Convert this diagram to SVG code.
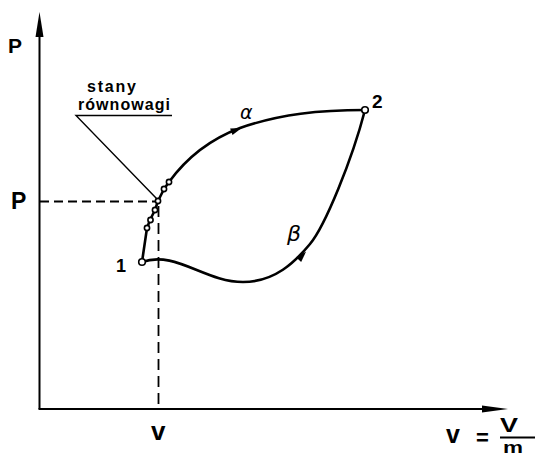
<svg xmlns="http://www.w3.org/2000/svg" width="535" height="457" viewBox="0 0 535 457">
<style>
.ax{stroke:#000;stroke-width:2;fill:none}
.cv{stroke:#000;stroke-width:2.6;fill:none;stroke-linejoin:round;stroke-linecap:round}
.ld{stroke:#000;stroke-width:1.4;fill:none}
.ds{stroke:#000;stroke-width:1.8;fill:none}
.pt{fill:#fff;stroke:#000;stroke-width:1.6}
.t{font-family:"Liberation Sans",Arial,sans-serif;font-weight:bold;fill:#000}
.g{font-family:"DejaVu Sans",sans-serif;font-style:italic;fill:#000}
</style>
<defs>
<path id="ah" d="M6,0 L-5,-3.5 L-5,3.5 Z" fill="#000"/>
</defs>
<rect width="535" height="457" fill="#fff"/>
<g id="axes">
<line class="ax" x1="39.5" y1="30" x2="39.5" y2="409"/>
<path d="M39.5,12 L35.5,37 L43.5,37 Z" fill="#000"/>
<line class="ax" x1="38.5" y1="409" x2="490" y2="409"/>
<path d="M508,409 L482,405.5 L482,412.5 Z" fill="#000"/>
<text class="t" x="8" y="53" font-size="21">P</text>
<text class="t" x="446" y="443" font-size="25">v</text>
<text class="t" x="476" y="445" font-size="22">=</text>
<text class="t" x="500" y="432" font-size="21" textLength="18" lengthAdjust="spacingAndGlyphs">V</text>
<line x1="500" y1="437.5" x2="535" y2="437.5" stroke="#000" stroke-width="2.2"/>
<text class="t" x="503" y="453" font-size="16" textLength="20" lengthAdjust="spacingAndGlyphs">m</text>
</g>
<g id="connectors">
<line class="ds" x1="40" y1="201.5" x2="156" y2="201.5" stroke-dasharray="9,5"/>
<line class="ds" x1="158.5" y1="206" x2="158.5" y2="408" stroke-dasharray="11,6"/>
<path class="ld" d="M172,115.5 L76,115.5 L157,199"/>
<path id="alpha" class="cv" d="M142,262 L147,228 L150,220 L155,210 L158,201 L164,189 L169,182 C185,160 208,140 240,128 C280,114 320,110 365,110"/>
<path id="beta" class="cv" d="M142,262 C175,250 205,282 243,282 C275,282 295,262 310,244 C325,226 352,160 365,110"/>
<use href="#ah" transform="translate(236,130) rotate(-20)"/>
<use href="#ah" transform="translate(302,256) rotate(-47)"/>
</g>
<g id="eq-states">
<circle class="pt" cx="147" cy="228" r="2.6"/>
<circle class="pt" cx="150.5" cy="220" r="2.6"/>
<circle class="pt" cx="155" cy="210" r="2.6"/>
<circle class="pt" cx="158" cy="201" r="2.6"/>
<circle class="pt" cx="164" cy="189" r="2.6"/>
<circle class="pt" cx="169" cy="182" r="2.6"/>
<text class="t" x="87" y="92" font-size="16" textLength="49">stany</text>
<text class="t" x="78" y="110" font-size="16" textLength="92">równowagi</text>
</g>
<g id="point1">
<circle class="pt" cx="142" cy="262" r="3.3"/>
<text class="t" x="116" y="272" font-size="18">1</text>
</g>
<g id="point2">
<circle class="pt" cx="365" cy="110" r="3.3"/>
<text class="t" x="372" y="108" font-size="19">2</text>
</g>
<g id="labels">
<text class="t" x="11" y="209" font-size="23">P</text>
<text class="t" x="151" y="440" font-size="26">v</text>
<text class="g" x="240" y="119" font-size="19">α</text>
<text class="g" x="287" y="241" font-size="22">β</text>
</g>
</svg>
